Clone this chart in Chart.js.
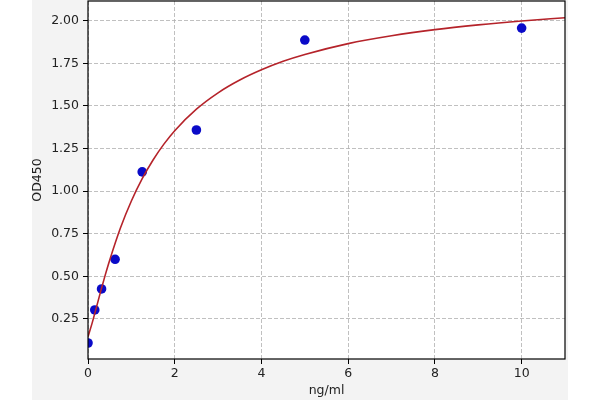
<!DOCTYPE html>
<html>
<head>
<meta charset="utf-8">
<script src="https://cdn.jsdelivr.net/npm/chart.js@4/dist/chart.umd.min.js"></script>
<style>
  html, body { margin: 0; padding: 0; background: #ffffff; }
  #wrap { width: 600px; height: 400px; position: relative; }
</style>
</head>
<body>
<div id="wrap"><canvas id="c" width="600" height="400"></canvas></div>
<script>
// Measured standards (ng/ml vs OD450)
const concentrations = [0, 0.156, 0.3125, 0.625, 1.25, 2.5, 5, 10];
const odValues = [0.109, 0.303, 0.426, 0.600, 1.113, 1.359, 1.887, 1.957];

// Fitted curve, values
const curveX = [0, 0.1, 0.2, 0.3, 0.4, 0.5, 0.75, 1, 1.25, 1.5, 1.75, 2, 2.5, 3, 3.5, 4, 4.5, 5, 6, 7, 8, 9, 10, 11];
const curveY = [0.146, 0.23, 0.324, 0.419, 0.51, 0.595, 0.785, 0.942, 1.073, 1.183, 1.276, 1.355, 1.481, 1.577, 1.652, 1.712, 1.762, 1.802, 1.866, 1.912, 1.948, 1.976, 1.999, 2.018];

// Tick labels
const xTicks = [0, 2, 4, 6, 8, 10];
const yTicks = [0.25, 0.50, 0.75, 1.00, 1.25, 1.50, 1.75, 2.00];

const xTitle = 'ng/ml';
const yTitle = 'OD450';

const scatterData = concentrations.map((x, i) => ({ x: x, y: odValues[i] }));
const curveData = curveX.map((x, i) => ({ x: x, y: curveY[i] }));

const FONT = { family: 'DejaVu Sans', size: 12.5 };
const TEXT = '#222222';

function zeroPad(scale) {
  scale.paddingTop = 0; scale.paddingBottom = 0;
  scale.paddingLeft = 0; scale.paddingRight = 0;
}

const bgPlugin = {
  id: 'bg',
  beforeDraw(chart) {
    const ctx = chart.ctx;
    const a = chart.chartArea;
    ctx.save();
    ctx.fillStyle = '#ffffff';
    ctx.fillRect(0, 0, chart.width, chart.height);
    ctx.fillStyle = '#f3f3f3';
    ctx.fillRect(32, 0, 536, chart.height);
    ctx.fillStyle = '#ffffff';
    ctx.fillRect(a.left, a.top, a.right - a.left, a.bottom - a.top);
    ctx.restore();
  },
  afterDraw(chart) {
    const ctx = chart.ctx;
    const a = chart.chartArea;
    ctx.save();
    ctx.strokeStyle = '#000000';
    ctx.lineWidth = 1.2;
    ctx.strokeRect(a.left, a.top, a.right - a.left, a.bottom - a.top);
    ctx.restore();
  }
};

new Chart(document.getElementById('c'), {
  type: 'scatter',
  data: {
    datasets: [
      {
        label: 'fit',
        data: curveData,
        showLine: true,
        borderColor: '#b5232a',
        borderWidth: 1.6,
        pointRadius: 0,
        fill: false,
        cubicInterpolationMode: 'monotone',
        clip: 0
      },
      {
        label: 'standards',
        data: scatterData,
        pointRadius: 4.8,
        pointBackgroundColor: '#0a0ac8',
        pointBorderColor: '#0a0ac8',
        pointBorderWidth: 0,
        showLine: false,
        clip: 0
      }
    ]
  },
  options: {
    responsive: false,
    animation: false,
    devicePixelRatio: 1,
    layout: { autoPadding: false, padding: { left: 0, right: 35, top: 1, bottom: 0 } },
    plugins: { legend: { display: false }, tooltip: { enabled: false } },
    scales: {
      x: {
        type: 'linear',
        min: 0,
        max: 11,
        afterBuildTicks(scale) { scale.ticks = xTicks.map(v => ({ value: v })); },
        afterFit(scale) { scale.height = 41; zeroPad(scale); },
        ticks: {
          color: TEXT,
          font: FONT,
          padding: 2,
          maxRotation: 0,
          autoSkip: false,
          callback: v => String(v)
        },
        grid: {
          color: '#b0b0b0',
          lineWidth: 0.8,
          drawTicks: true,
          tickLength: 5,
          tickColor: '#000000',
          tickWidth: 1
        },
        border: { display: false, dash: [4, 2] },
        title: { display: true, text: xTitle, color: TEXT, font: FONT, padding: { top: 0, bottom: 2 } }
      },
      y: {
        type: 'linear',
        min: 0.015,
        max: 2.116,
        afterBuildTicks(scale) { scale.ticks = yTicks.map(v => ({ value: v })); },
        afterFit(scale) { scale.width = 88; zeroPad(scale); },
        ticks: {
          color: TEXT,
          font: FONT,
          padding: 4,
          autoSkip: false,
          callback: v => Number(v).toFixed(2)
        },
        grid: {
          color: '#b0b0b0',
          lineWidth: 0.8,
          drawTicks: true,
          tickLength: 5,
          tickColor: '#000000',
          tickWidth: 1
        },
        border: { display: false, dash: [4, 2] },
        title: { display: true, text: yTitle, color: TEXT, font: FONT, padding: { top: 30, bottom: 0 } }
      }
    }
  },
  plugins: [bgPlugin]
});
</script>
</body>
</html>
